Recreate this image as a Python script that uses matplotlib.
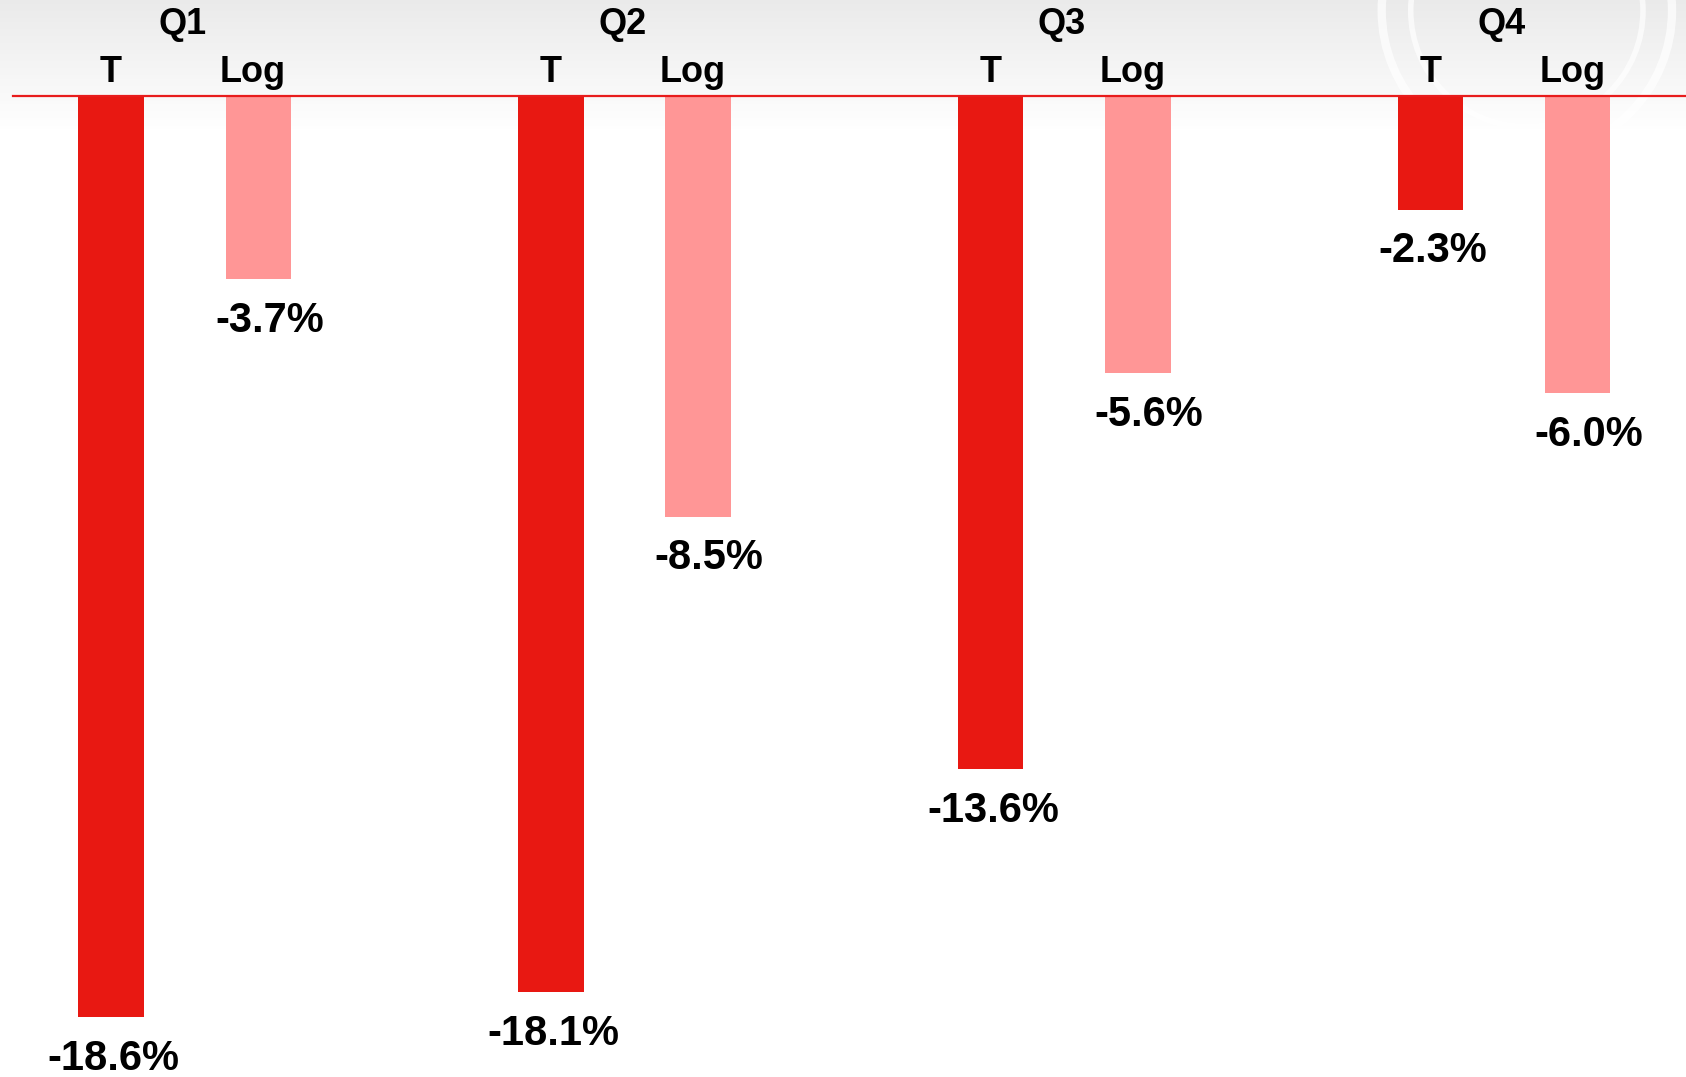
import matplotlib
matplotlib.use("Agg")
import matplotlib.pyplot as plt
import numpy as np
from matplotlib.patches import Ellipse

# datos
quarters = ["Q1", "Q2", "Q3", "Q4"]
t_vals = [-18.6, -18.1, -13.6, -2.3]
log_vals = [-3.7, -8.5, -5.6, -6.0]
series_names = ["T", "Log"]

c_t = "#e81812"
c_log = "#ff9696"
plt.rcParams["font.family"] = ["Liberation Sans", "DejaVu Sans"]

fig = plt.figure(figsize=(16.86, 10.77), dpi=100)

# fondo con degradado gris arriba
bg = fig.add_axes([0, 0, 1, 1], zorder=0)
grad = np.linspace(0, 1, 300).reshape(-1, 1)
shade = 1 - 0.08 * np.clip(1 - grad / 0.12, 0, 1)
img = np.dstack([shade, shade, shade])
bg.imshow(img, extent=[0, 1, 0, 1], aspect="auto", origin="upper")
# arcos blancos arriba a la derecha
for r, lw in [(135, 6), (108, 4)]:
    bg.add_patch(Ellipse((1420 / 1568, 1 - 10 / 1002), 2 * r / 1568,
                         2 * r / 1002, fill=False, ec="white", lw=lw,
                         alpha=0.7))
bg.set_xlim(0, 1)
bg.set_ylim(0, 1)
bg.axis("off")

ax = fig.add_axes([0, 0, 1, 1], zorder=1)
ax.patch.set_alpha(0)

x = np.arange(len(quarters))
off = 0.1675
w = 0.149
ax.bar(x - off, t_vals, width=w, color=c_t, zorder=2)
ax.bar(x + off, log_vals, width=w, color=c_log, zorder=2)
ax.axhline(0, xmin=0.0077, xmax=1, color="#e81c1c", lw=1.6, zorder=3)

lab_kw = dict(ha="center", va="center", fontsize=30, fontweight="bold",
              color="black")
hdr_kw = dict(ha="center", va="center", fontsize=26, fontweight="bold",
              color="black")
for i in range(len(quarters)):
    ax.annotate(f"{t_vals[i]:.1f}%", (x[i] - off + 0.006, t_vals[i]),
                xytext=(0, -30), textcoords="offset points", **lab_kw)
    ax.annotate(f"{log_vals[i]:.1f}%", (x[i] + off + 0.025, log_vals[i]),
                xytext=(0, -30), textcoords="offset points", **lab_kw)
    ax.text(x[i] - off, 0.47, series_names[0], **hdr_kw)
    ax.text(x[i] + off - 0.012, 0.47, series_names[1], **hdr_kw)
    ax.text(x[i] - 0.005, 1.43, quarters[i], **hdr_kw)

ax.set_xlim(-0.42, 3.414)
ax.set_ylim(-19.81, 1.93)
ax.axis("off")

plt.savefig("out.png", dpi=100)
